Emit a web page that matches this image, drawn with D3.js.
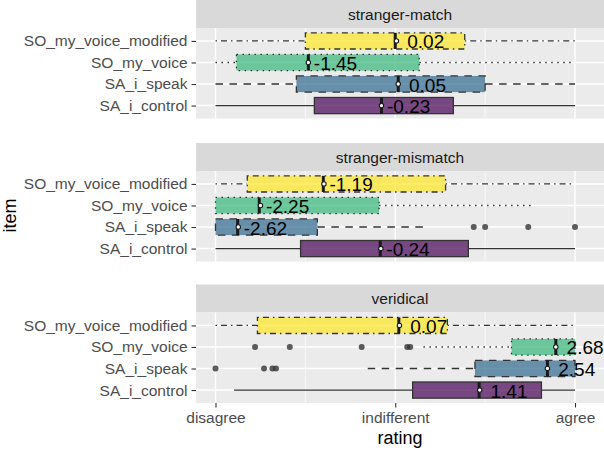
<!DOCTYPE html>
<html>
<head>
<meta charset="utf-8">
<script src="https://cdn.jsdelivr.net/npm/d3@7"></script>
<style>
  body { margin: 0; background: #fff; }
  svg { font-family: "Liberation Sans", Arial, sans-serif; display: block; }
</style>
</head>
<body>
<svg id="chart" width="604" height="450"></svg>
<script>
// facets, items (top to bottom) and x tick labels
const facets = ["stranger-match", "stranger-mismatch", "veridical"];
const items = ["SO_my_voice_modified", "SO_my_voice", "SA_i_speak", "SA_i_control"];
const ratingTicks = [-3, 0, 3];
const ratingLabels = ["disagree", "indifferent", "agree"];

// box stats per facet, one value per item (same order as items)
const whiskerLow = [
  [-3, -3, -3, -3],
  [-3, -3, -3, -3],
  [-3, 0.47, -0.46, -2.69]
];
const q1 = [
  [-1.5, -2.65, -1.65, -1.35],
  [-2.47, -3, -3, -1.58],
  [-2.3, 1.94, 1.33, 0.29]
];
const medians = [
  [0, -1.45, 0.05, -0.23],
  [-1.2, -2.27, -2.63, -0.25],
  [0.06, 2.68, 2.54, 1.4]
];
const q3 = [
  [1.16, 0.4, 1.5, 0.97],
  [0.84, -0.27, -1.3, 1.22],
  [0.87, 3, 3, 2.44]
];
const whiskerHigh = [
  [3, 3, 3, 3],
  [3, 2.3, 0.47, 3],
  [3, 3, 3, 3]
];
const means = [
  [0.02, -1.45, 0.05, -0.23],
  [-1.19, -2.25, -2.62, -0.24],
  [0.07, 2.68, 2.54, 1.41]
];
const outliers = [
  [[], [], [], []],
  [[], [], [1.31, 1.5, 2.22, 3], []],
  [[], [-2.34, -1.76, -0.56, 0.2, 0.25], [-3, -2.19, -2.05, -1.99], []]
];

const itemColors = ["#FDE725", "#35B779", "#31688E", "#440154"];
const itemDash = ["1.5,4,6,4", "1.5,4.5", "7.5,6.5", null];

const svg = d3.select("#chart");
const panelLeft = 196, panelRight = 604;
const panelTops = [28, 171, 312.5];
const panelH = 90.5, stripH = 28;

const x = d3.scaleLinear().domain([-3, 3]).range([215.5, 575]);
// R style label: leading space for positives, plain hyphen for negatives
const fmt = v => d3.format(" .2f")(v).replace("\u2212", "-");

facets.forEach((facet, f) => {
  const top = panelTops[f];
  const y = d3.scalePoint().domain(items).range([top, top + panelH]).padding(0.6);
  const g = svg.append("g");

  // strip
  g.append("rect")
    .attr("x", panelLeft).attr("y", top - stripH)
    .attr("width", panelRight - panelLeft).attr("height", stripH)
    .attr("fill", "#D9D9D9");
  g.append("text")
    .attr("x", (panelLeft + panelRight) / 2).attr("y", top - stripH / 2)
    .attr("text-anchor", "middle").attr("dominant-baseline", "central")
    .attr("font-size", 15.5).attr("fill", "#1A1A1A")
    .text(facet);

  // panel + grid
  g.append("rect")
    .attr("x", panelLeft).attr("y", top)
    .attr("width", panelRight - panelLeft).attr("height", panelH)
    .attr("fill", "#EBEBEB");
  [-1.5, 1.5].forEach(v => {
    g.append("line")
      .attr("x1", x(v)).attr("x2", x(v)).attr("y1", top).attr("y2", top + panelH)
      .attr("stroke", "#fff").attr("stroke-width", 0.7);
  });
  ratingTicks.forEach(v => {
    g.append("line")
      .attr("x1", x(v)).attr("x2", x(v)).attr("y1", top).attr("y2", top + panelH)
      .attr("stroke", "#fff").attr("stroke-width", 1.4);
  });
  items.forEach(it => {
    g.append("line")
      .attr("x1", panelLeft).attr("x2", panelRight).attr("y1", y(it)).attr("y2", y(it))
      .attr("stroke", "#fff").attr("stroke-width", 1.4);
  });

  // y axis
  const ax = g.append("g")
    .attr("transform", `translate(${panelLeft},0)`)
    .call(d3.axisLeft(y).tickSize(4.5).tickPadding(4));
  ax.select(".domain").remove();
  ax.selectAll("line").attr("stroke", "#333").attr("stroke-width", 1.1);
  ax.selectAll("text").attr("font-size", 15.5).attr("fill", "#4D4D4D")
    .attr("font-family", "Liberation Sans, Arial, sans-serif");

  const bw = y.step() * 0.75;

  items.forEach((it, i) => {
    const cy = y(it);
    const dash = itemDash[i];
    // whiskers
    [[whiskerLow[f][i], q1[f][i]], [q3[f][i], whiskerHigh[f][i]]].forEach(([a, b]) => {
      if (b - a > 0.001) {
        g.append("line")
          .attr("x1", x(a)).attr("x2", x(b)).attr("y1", cy).attr("y2", cy)
          .attr("stroke", "#333").attr("stroke-width", 1.3)
          .attr("stroke-dasharray", dash);
      }
    });
    // outliers
    g.selectAll(null).data(outliers[f][i]).enter().append("circle")
      .attr("cx", d => x(d)).attr("cy", cy).attr("r", 3)
      .attr("fill", "#333").attr("fill-opacity", 0.8);
    // box
    g.append("rect")
      .attr("x", x(q1[f][i])).attr("y", cy - bw / 2)
      .attr("width", x(q3[f][i]) - x(q1[f][i])).attr("height", bw)
      .attr("fill", itemColors[i]).attr("fill-opacity", 0.7)
      .attr("stroke", "#333").attr("stroke-width", 1.3)
      .attr("stroke-dasharray", dash);
    // median
    g.append("line")
      .attr("x1", x(medians[f][i])).attr("x2", x(medians[f][i]))
      .attr("y1", cy - bw / 2).attr("y2", cy + bw / 2)
      .attr("stroke", "#1A1A1A").attr("stroke-width", 3);
    // mean
    g.append("circle")
      .attr("cx", x(means[f][i])).attr("cy", cy).attr("r", 2.2)
      .attr("fill", "#fff").attr("stroke", "#1A1A1A").attr("stroke-width", 1.1);
    g.append("text")
      .attr("x", x(means[f][i]) + 5.5).attr("y", cy + 1)
      .attr("dominant-baseline", "central")
      .attr("font-size", 19).attr("fill", "#000")
      .style("white-space", "pre")
      .text(fmt(means[f][i]));
  });

  // x axis under the last panel only
  if (f === facets.length - 1) {
    const xa = g.append("g")
      .attr("transform", `translate(0,${top + panelH})`)
      .call(d3.axisBottom(x).tickValues(ratingTicks)
        .tickFormat((d, k) => ratingLabels[k]).tickSize(4.5).tickPadding(4));
    xa.select(".domain").remove();
    xa.selectAll("line").attr("stroke", "#333").attr("stroke-width", 1.1);
    xa.selectAll("text").attr("font-size", 15.5).attr("fill", "#4D4D4D")
      .attr("font-family", "Liberation Sans, Arial, sans-serif");
  }
});

// axis titles
svg.append("text")
  .attr("x", (panelLeft + panelRight) / 2).attr("y", 444)
  .attr("text-anchor", "middle").attr("font-size", 18).attr("fill", "#000")
  .text("rating");
svg.append("text")
  .attr("transform", `translate(16,${(panelTops[0] + panelTops[2] + panelH) / 2}) rotate(-90)`)
  .attr("text-anchor", "middle").attr("font-size", 18).attr("fill", "#000")
  .text("item");
</script>
</body>
</html>
